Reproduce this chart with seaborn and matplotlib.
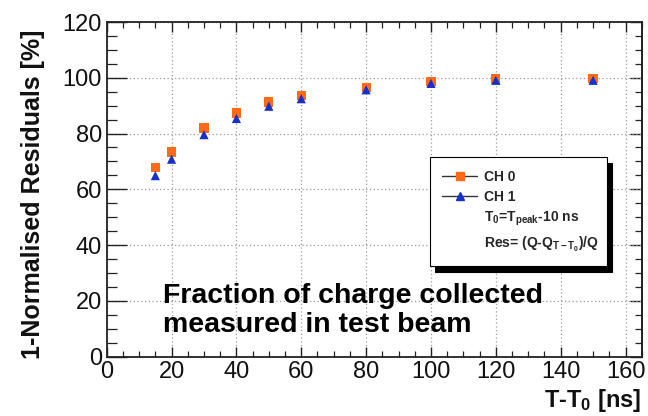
import matplotlib
matplotlib.use("Agg")
import matplotlib.pyplot as plt
from matplotlib.lines import Line2D
from matplotlib.ticker import MultipleLocator
import seaborn as sns
import pandas as pd

# ---- data ----
t_values = [15, 20, 30, 40, 50, 60, 80, 100, 120, 150]
ch0_values = [67.7, 73.4, 82.0, 87.4, 91.3, 93.7, 96.6, 98.8, 99.6, 99.7]
ch1_values = [64.9, 70.8, 79.6, 85.4, 89.8, 92.5, 95.7, 98.0, 99.1, 99.1]
channels = ["CH 0", "CH 1"]
x_ticks = [0, 20, 40, 60, 80, 100, 120, 140, 160]
y_ticks = [0, 20, 40, 60, 80, 100, 120]

df = pd.DataFrame({
    "t": t_values + t_values,
    "res": ch0_values + ch1_values,
    "ch": [channels[0]] * len(t_values) + [channels[1]] * len(t_values),
})

sns.set_theme(style="white")
plt.rcParams["font.family"] = ["Liberation Sans", "DejaVu Sans"]
plt.rcParams["mathtext.fontset"] = "custom"
plt.rcParams["mathtext.bf"] = "Liberation Sans:bold"
plt.rcParams["mathtext.rm"] = "Liberation Sans"
plt.rcParams["mathtext.default"] = "bf"

orange = "#ff6a17"
blue = "#1630c8"

fig = plt.figure(figsize=(6.48, 4.16), dpi=100)
ax = fig.add_axes([0.1647, 0.143, 0.8256, 0.804])

sns.scatterplot(data=df, x="t", y="res", hue="ch", style="ch",
                palette={channels[0]: orange, channels[1]: blue},
                markers={channels[0]: "s", channels[1]: "^"},
                s=44, linewidth=0, legend=False, ax=ax, zorder=3)

ax.set_xlim(0, 165)
ax.set_ylim(0, 120)
ax.set_xticks(x_ticks)
ax.set_yticks(y_ticks)
ax.xaxis.set_minor_locator(MultipleLocator(5))
ax.yaxis.set_minor_locator(MultipleLocator(5))

ax.grid(True, which="major", color="#9a9a9a", linestyle=(0, (1, 2)), linewidth=0.9)
for sp in ax.spines.values():
    sp.set_color("#222222")
    sp.set_linewidth(1.3)

ax.tick_params(axis="x", which="major", direction="in", length=7.2, width=1.0,
               top=True, bottom=True, labelsize=17, pad=3.5, colors="#222222",
               labelcolor="#111111")
ax.tick_params(axis="x", which="minor", direction="in", length=4.3, width=0.9,
               top=True, bottom=True, colors="#222222")
ax.tick_params(axis="y", which="major", direction="in", length=14.4, width=1.0,
               left=True, right=False, labelsize=17, pad=3.5, colors="#222222",
               labelcolor="#111111")
ax.tick_params(axis="y", which="minor", direction="in", length=7.2, width=0.9,
               left=True, right=False, colors="#222222")

# right-side ticks (shorter)
sec = ax.secondary_yaxis("right")
sec.set_yticks(y_ticks)
sec.yaxis.set_minor_locator(MultipleLocator(5))
sec.tick_params(which="major", direction="in", length=8.6, width=1.0,
                labelright=False, colors="#222222")
sec.tick_params(which="minor", direction="in", length=5.0, width=0.9,
                labelright=False, colors="#222222")
sec.spines["right"].set_linewidth(1.3)
sec.spines["right"].set_color("#222222")

ax.set_xlabel(r"T-T$_0$ [ns]", fontsize=17, fontweight="bold", color="#111111")
ax.xaxis.set_label_coords(1.0, -0.09)
ax.xaxis.label.set_ha("right")
ax.set_ylabel("1-Normalised Residuals [%]", fontsize=18, fontweight="bold",
              color="#111111")
ax.yaxis.set_label_coords(-0.115, 0.485)

ax.text(17.3, 26.3, "Fraction of charge collected\nmeasured in test beam",
        fontsize=20.5, fontweight="bold", color="black", va="top", ha="left",
        linespacing=1.15, zorder=4)

handles = [
    Line2D([], [], color="#333333", lw=1.0, marker="s", markersize=6.0,
           markerfacecolor=orange, markeredgecolor=orange),
    Line2D([], [], color="#333333", lw=1.0, marker="^", markersize=6.0,
           markerfacecolor=blue, markeredgecolor=blue),
    Line2D([], [], color="none"),
    Line2D([], [], color="none"),
]
labels = [channels[0], channels[1],
          r"T$_0$=T$_{peak}$-10 ns",
          r"Res= (Q-Q$_{T-T_0}$)/Q"]
leg = ax.legend(handles, labels, loc="upper left",
                bbox_to_anchor=(0.604, 0.274, 0.331, 0.322), mode="expand",
                frameon=True, fancybox=False, borderpad=0.9, labelspacing=0.45,
                handlelength=2.5, handletextpad=0.5, borderaxespad=0,
                numpoints=1, markerfirst=True,
                prop={"weight": "bold", "size": 10},
                shadow={"ox": 4, "oy": -4, "color": "black", "alpha": 1})
leg.get_frame().set_edgecolor("black")
leg.get_frame().set_linewidth(0.8)
leg.get_frame().set_facecolor("white")
leg.set_zorder(5)

fig.savefig("out.png", dpi=100, facecolor="white")
